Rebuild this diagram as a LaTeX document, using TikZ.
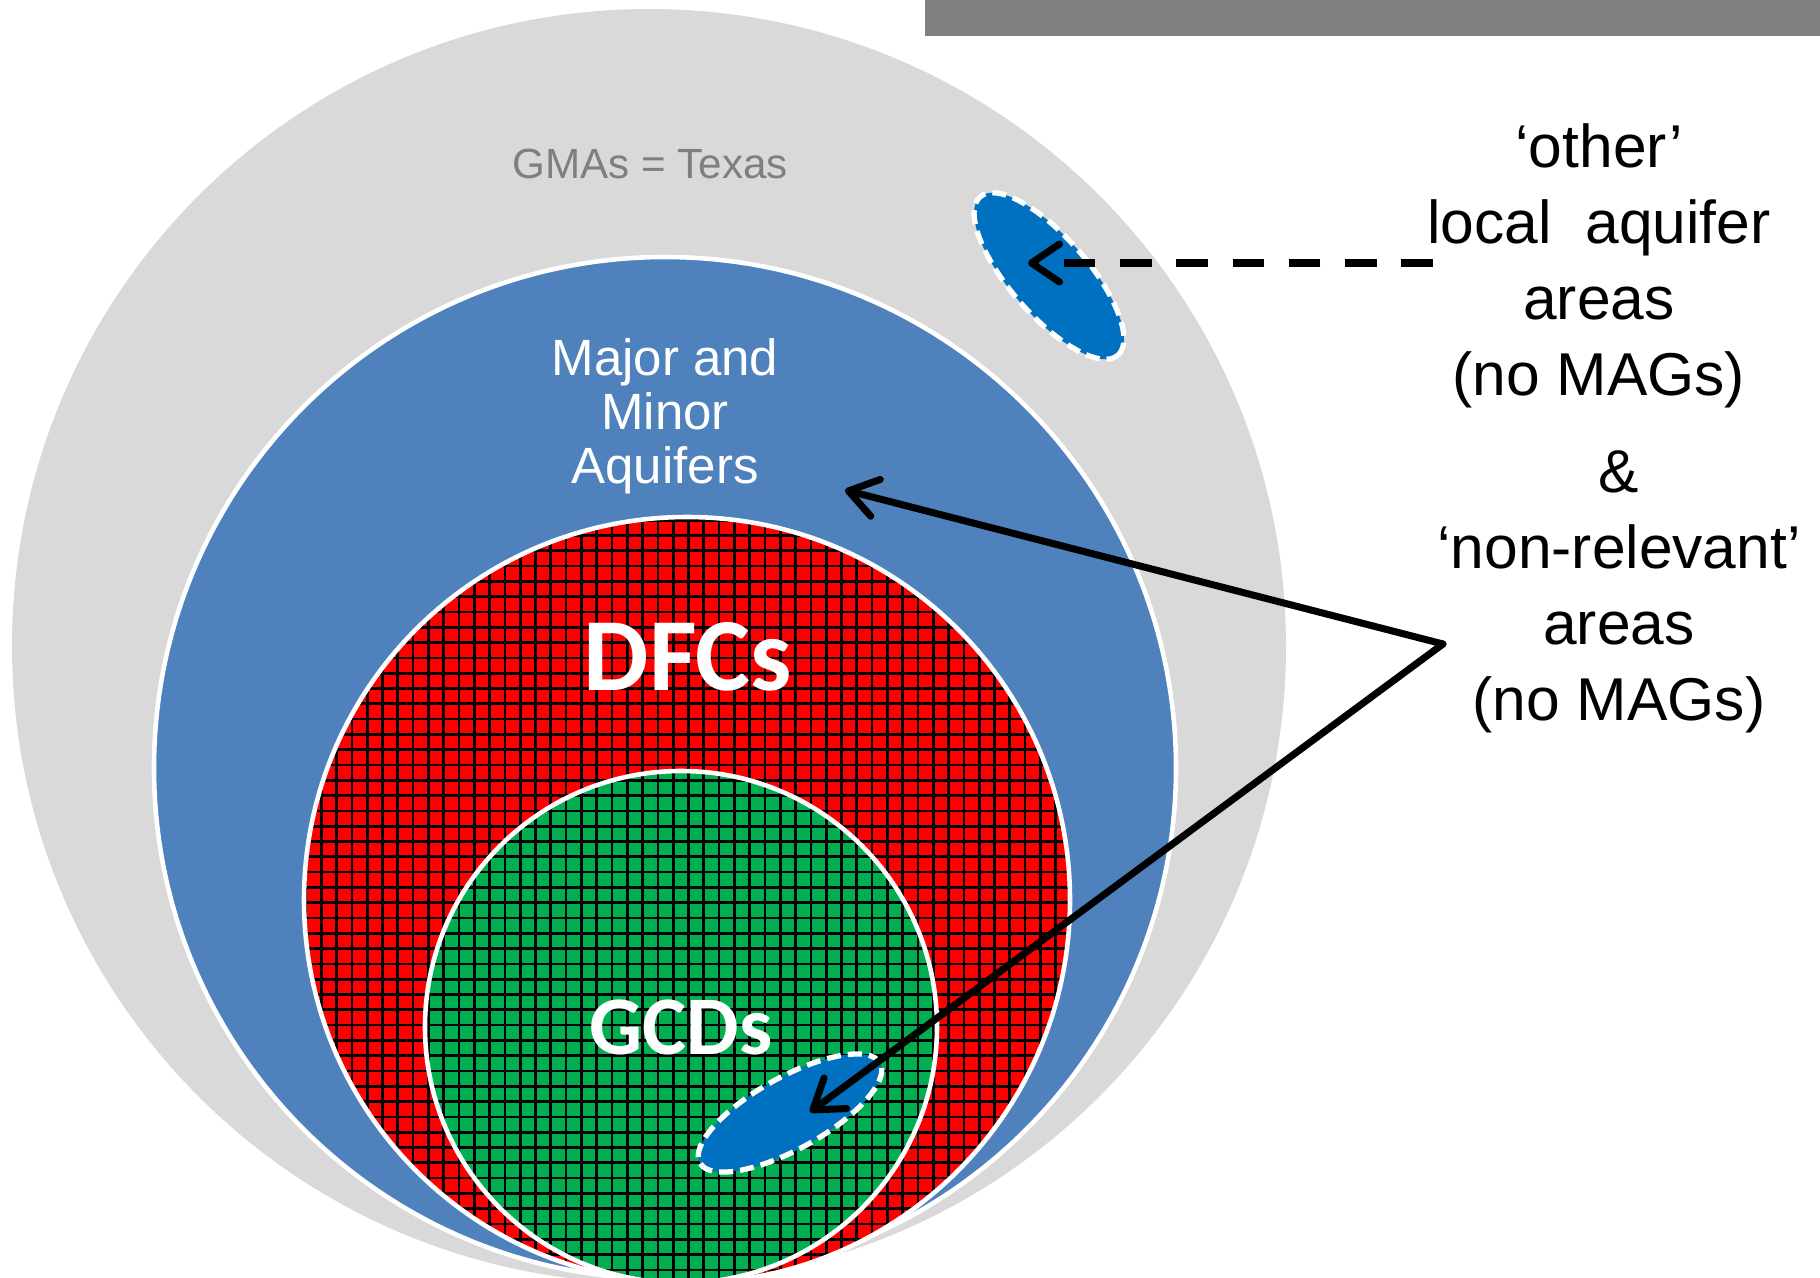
\documentclass[tikz,border=0pt]{standalone}
\usepackage{fontspec}
\setmainfont{Liberation Sans}
\newfontfamily\calibri{Carlito}
\usetikzlibrary{arrows.meta}
\definecolor{gmagray}{HTML}{D9D9D9}
\definecolor{bargray}{HTML}{808080}
\definecolor{labelgray}{HTML}{7F7F7F}
\definecolor{aqblue}{HTML}{4F81BD}
\definecolor{dfcred}{HTML}{FF0000}
\definecolor{gcdgreen}{HTML}{00B050}
\definecolor{localblue}{HTML}{0070C0}
\tikzset{
	rimline/.style={draw=white, line width=1.3pt},
	gridline/.style={draw=black, line width=0.75pt},
	localarea/.style={fill=localblue, draw=white, line width=1.5pt, dash pattern=on 4pt off 2pt},
	pointer/.style={line width=2pt, line cap=round, -{Straight Barb[length=2.8mm,width=3.8mm,round]}},
	sidetext/.style={align=center, font=\fontsize{17.2}{21.6}\selectfont}
}

\begin{document}
\begin{tikzpicture}[x=0.01cm, y=0.01cm]
				\useasboundingbox (0,0) rectangle (1820,-1278);
				\fill[bargray] (925,0) rectangle (1820,-36);
				
				\fill[gmagray] (649,-646) circle (637);
				
				\fill[aqblue] (665,-768) circle (511);
				\draw[rimline] (665,-768) circle (511);
				
				\fill[dfcred] (687,-900) circle (383);
				\begin{scope}
					\clip (687,-900) circle (383);
					\draw[gridline, step=15.3] (300,-1290) grid (1075,-515);
				\end{scope}
				\draw[rimline] (687,-900) circle (383);
				
				\fill[gcdgreen] (681,-1027) circle (256);
				\begin{scope}
					\clip (681,-1027) circle (256);
					\draw[gridline, step=15.3] (420,-1290) grid (940,-770);
				\end{scope}
				\draw[rimline] (681,-1027) circle (256);
				
				\draw[localarea] (1049,-276) ellipse [x radius=105, y radius=39, rotate=-49];
				\draw[localarea] (790,-1113) ellipse [x radius=103, y radius=36, rotate=29];
				
				\node[text=labelgray, font=\fontsize{12}{14}\selectfont] (gmas) at (650,-164) {GMAs = Texas};
				\node[text=white, align=center, font=\fontsize{14.5}{15.4}\selectfont] (aquifers) at (665,-416) {Major and\\Minor\\Aquifers};
				\node[text=white, font=\calibri\bfseries\fontsize{29.5}{32}\selectfont] (dfcs) at (688,-657) {DFCs};
				\node[text=white, font=\calibri\bfseries\fontsize{23.7}{26}\selectfont] (gcds) at (681,-1027) {GCDs};
				
				\node[sidetext] (other) at (1599,-266) {‘other’\\local\ \ aquifer\\areas\\(no MAGs)};
				\node[sidetext] (nonrel) at (1619,-592) {\&\\‘non-relevant’\\areas\\(no MAGs)};
				
				\coordinate (dashstart) at (1433,-263);
				\coordinate (localtip) at (1028,-263);
				\coordinate (bend) at (1443,-644);
				\coordinate (aqtip) at (845,-490);
				\coordinate (gcdtip) at (810,-1112);
				
				\draw[pointer, line cap=butt, dash pattern=on 9pt off 7pt] (dashstart) -- (localtip);
				\draw[pointer] (bend) -- (aqtip);
				\draw[pointer] (bend) -- (gcdtip);
\end{tikzpicture}
\end{document}
